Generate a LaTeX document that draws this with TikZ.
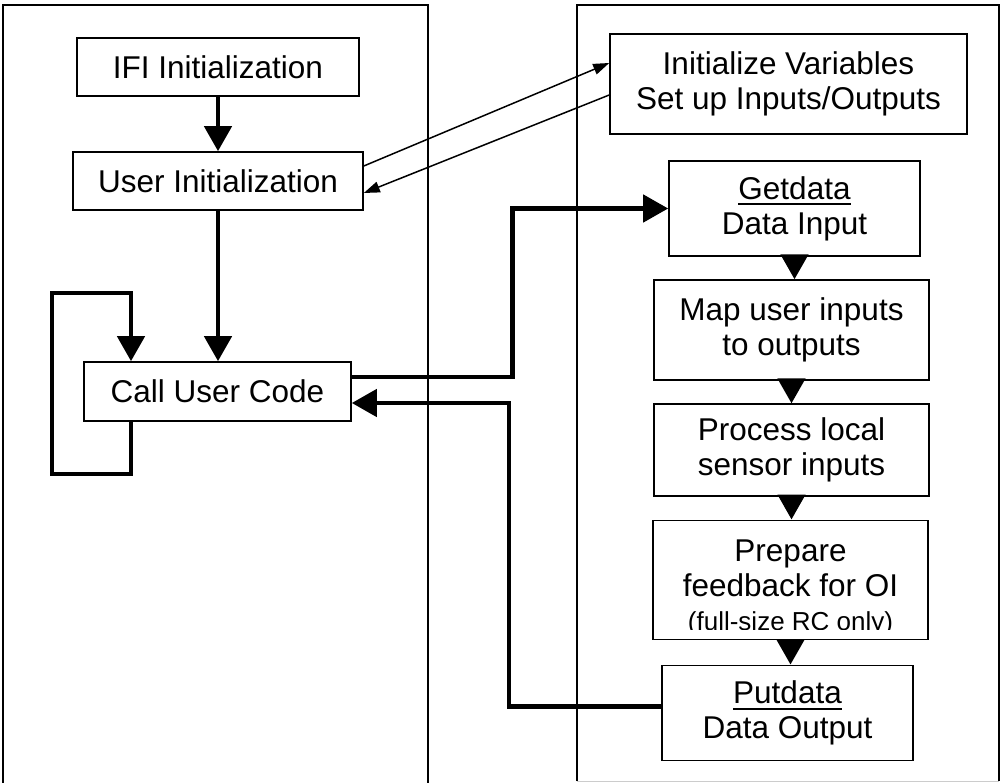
\documentclass[tikz,border=0pt]{standalone}
\usepackage{fontspec}
\setmainfont{Liberation Sans}
\usetikzlibrary{arrows.meta,positioning,calc}
\tikzstyle{block} = [rectangle, draw=black, line width=1.6pt, inner sep=0pt, align=center, font=\fontsize{31.5}{35}\selectfont]
\tikzstyle{arrow} = [line width=4.5pt, -{Triangle[length=25pt,width=27pt]}]
\tikzstyle{link} = [line width=1.5pt, -{Triangle[length=16pt,width=11pt]}]
\tikzstyle{panel} = [line width=1.6pt]
\newcommand{\undertext}[1]{\leavevmode\vtop{\hbox{#1}\kern4pt\hrule height 2pt}}

\begin{document}
\begin{tikzpicture}[x=1pt, y=-1pt]
    \useasboundingbox (0,0) rectangle (1001,783);

    % the two panels
    \draw[panel] (3,783) -- (3,5) -- (428,5) -- (428,783);
    \draw[panel] (577,781) -- (577,5) -- (999,5) -- (999,781);
    \draw[gray!40, line width=1pt] (577,781) -- (999,781);

    % left side
    \node[block, minimum width=282pt, minimum height=58pt] (ifi) at (218,67) {IFI Initialization};
    \node[block, minimum width=290pt, minimum height=58pt] (user) at (218,181) {User Initialization};
    \node[block, minimum width=267pt, minimum height=59pt] (call) at (217.5,391.5) {Call User Code};

    % right side
    \node[block, minimum width=357pt, minimum height=100pt] (initvar) at (788.5,84) {Initialize Variables\\Set up Inputs/Outputs};
    \node[block, minimum width=251pt, minimum height=95pt] (getdata) at (794.5,208.5) {\undertext{Getdata}\\Data Input};
    \node[block, minimum width=275pt, minimum height=100pt, below=22.5pt of getdata, xshift=-3pt] (map) {Map user inputs\\to outputs};
    \node[block, minimum width=275pt, minimum height=92pt, below=22.5pt of map] (process) {Process local\\sensor inputs};
    \node[block, minimum width=275pt, minimum height=119pt, below=22.5pt of process, xshift=-1pt] (prep) {};
    \node[block, minimum width=251pt, minimum height=95pt, below=24.5pt of prep, xshift=-3pt] (putdata) {\undertext{Putdata}\\Data Output};

    % last line of the feedback box runs past its bottom
    \begin{scope}
        \clip ([shift={(2pt,-2pt)}]prep.north west) rectangle ([yshift=11pt]prep.south east);
        \node[block, draw=none, anchor=north] (prepnote) at ([yshift=-20pt]prep.north)
            {Prepare\\feedback for OI\\[-1pt]{\fontsize{26}{30}\selectfont (full-size RC only)}};
    \end{scope}

    \coordinate (sendcol) at (512.5,0);
    \coordinate (backcol) at (509,0);
    \coordinate (callout) at ([yshift=14.5pt]call.east);
    \coordinate (callin) at ([yshift=-11.5pt]call.east);

    \draw[arrow] (ifi.south) -- (ifi.south |- user.north);
    \draw[arrow] (user.south) -- (user.south |- call.north);
    \draw[arrow] ([xshift=-86.5pt]call.south) -- ++(0,52) -| (52,293) -| ([xshift=-86.5pt]call.north);

    \draw[link] ([yshift=15pt]user.east) -- ([yshift=21pt]initvar.west);
    \draw[link] ([yshift=-11pt]initvar.west) -- ([yshift=-12pt]user.east);

    \draw[arrow] (callout) -- (callout -| sendcol) |- (getdata.west);
    \draw[arrow] ([yshift=6.5pt]putdata.west) -| (callin -| backcol) -- (callin);

    \draw[arrow] (getdata.south) -- (getdata.south |- map.north);
    \draw[arrow] (map.south) -- (map.south |- process.north);
    \draw[arrow] (process.south) -- (process.south |- prep.north);
    \draw[arrow] (prep.south) -- (prep.south |- putdata.north);
\end{tikzpicture}
\end{document}
